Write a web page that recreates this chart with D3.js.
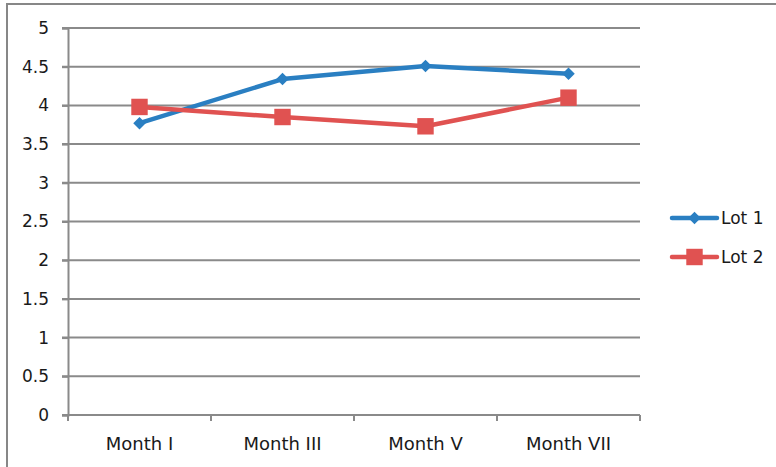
<!DOCTYPE html>
<html>
<head>
<meta charset="utf-8">
<script src="https://cdn.jsdelivr.net/npm/d3@7"></script>
<style>
  html, body { margin: 0; padding: 0; background: #fff; }
  svg { display: block; }
  text { font-family: "DejaVu Sans", sans-serif; fill: #1a1a1a; }
</style>
</head>
<body>
<svg id="chart" width="776" height="467"></svg>
<script>
// Chart data
const categories = ["Month I", "Month III", "Month V", "Month VII"];
const lot1 = [3.77, 4.34, 4.51, 4.41];
const lot2 = [3.98, 3.85, 3.73, 4.10];
const yTicks = [0, 0.5, 1, 1.5, 2, 2.5, 3, 3.5, 4, 4.5, 5];
const seriesNames = ["Lot 1", "Lot 2"];
const seriesColors = ["#2a7fc2", "#e05251"];

const svg = d3.select("#chart");
const gridColor = "#8a8a8a";

// Outer chart frame (open at the right and bottom edges)
svg.append("path")
  .attr("d", "M7,470 L7,4 L780,4")
  .attr("fill", "none")
  .attr("stroke", "#878787")
  .attr("stroke-width", 2);

const plot = { left: 68, right: 640, top: 28, bottom: 415 };

const x = d3.scaleBand().domain(categories).range([plot.left, plot.right]);
const y = d3.scaleLinear().domain([0, 5]).range([plot.bottom, plot.top]);

// Horizontal gridlines
svg.append("g")
  .selectAll("line")
  .data(yTicks.filter(d => d > 0))
  .join("line")
  .attr("x1", plot.left - 6)
  .attr("x2", plot.right)
  .attr("y1", d => y(d))
  .attr("y2", d => y(d))
  .attr("stroke", gridColor)
  .attr("stroke-width", 2);

// Y axis
const yAxis = svg.append("g")
  .attr("transform", `translate(${plot.left},0)`)
  .call(d3.axisLeft(y).tickValues(yTicks).tickFormat(d3.format("")).tickSize(6).tickPadding(13));
yAxis.select(".domain").attr("stroke", gridColor).attr("stroke-width", 2);
yAxis.selectAll(".tick line").attr("stroke", gridColor).attr("stroke-width", 2);
yAxis.selectAll("text").style("font-size", "17px").style("font-family", "DejaVu Sans, sans-serif").attr("fill", "#1a1a1a");

// X axis with ticks at category boundaries
const xAxisG = svg.append("g").attr("transform", `translate(0,${plot.bottom})`);
xAxisG.append("line")
  .attr("x1", plot.left - 6).attr("x2", plot.right)
  .attr("stroke", gridColor).attr("stroke-width", 2);
const boundaries = categories.map(c => x(c)).concat([x(categories[categories.length - 1]) + x.bandwidth()]);
xAxisG.selectAll("line.tk")
  .data(boundaries)
  .join("line")
  .attr("class", "tk")
  .attr("x1", d => d).attr("x2", d => d)
  .attr("y1", 0).attr("y2", 6)
  .attr("stroke", gridColor).attr("stroke-width", 2);
xAxisG.selectAll("text")
  .data(categories)
  .join("text")
  .attr("x", d => x(d) + x.bandwidth() / 2)
  .attr("y", 35)
  .attr("text-anchor", "middle")
  .style("font-size", "18px")
  .text(d => d);

// Series lines and markers
const line = d3.line()
  .x((d, i) => x(categories[i]) + x.bandwidth() / 2)
  .y(d => y(d));

const diamond = d3.symbol().type(d3.symbolDiamond2).size(100);
const square = d3.symbol().type(d3.symbolSquare).size(270);

[lot1, lot2].forEach((vals, si) => {
  svg.append("path")
    .datum(vals)
    .attr("d", line)
    .attr("fill", "none")
    .attr("stroke", seriesColors[si])
    .attr("stroke-width", 4.5)
    .attr("stroke-linejoin", "round");
  svg.append("g")
    .selectAll("path")
    .data(vals)
    .join("path")
    .attr("transform", (d, i) => `translate(${x(categories[i]) + x.bandwidth() / 2},${y(d)})`)
    .attr("d", si === 0 ? diamond : square)
    .attr("fill", seriesColors[si]);
});

// Legend
const legend = svg.append("g");
seriesNames.forEach((name, i) => {
  const ly = 218 + i * 39;
  legend.append("line")
    .attr("x1", 672).attr("x2", 717)
    .attr("y1", ly).attr("y2", ly)
    .attr("stroke", seriesColors[i])
    .attr("stroke-width", 4.5)
    .attr("stroke-linecap", "round");
  legend.append("path")
    .attr("transform", `translate(694.5,${ly})`)
    .attr("d", i === 0 ? diamond : square)
    .attr("fill", seriesColors[i]);
  legend.append("text")
    .attr("x", 721)
    .attr("y", ly + 6)
    .style("font-size", "17px")
    .text(name);
});
</script>
</body>
</html>
